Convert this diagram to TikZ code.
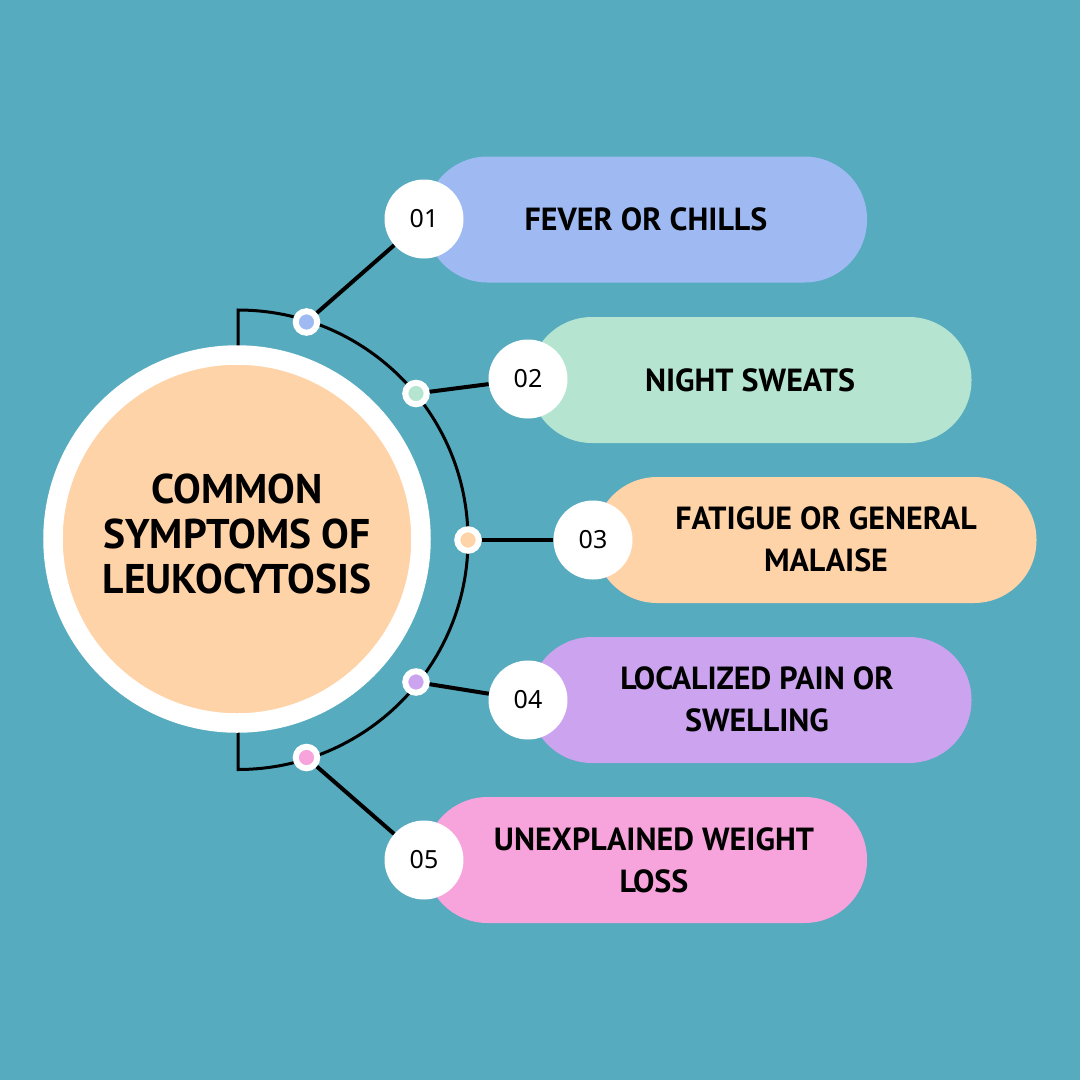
\documentclass[tikz,border=0pt]{standalone}
\usepackage{fontspec}
\setmainfont{PT Sans}
\newfontfamily\numfont{Noto Sans}
\definecolor{bgc}{HTML}{56ABBF}
\definecolor{cblue}{HTML}{9FBAF2}
\definecolor{cgreen}{HTML}{B5E5D1}
\definecolor{corange}{HTML}{FFD3A8}
\definecolor{cpurple}{HTML}{CBA3EE}
\definecolor{cpink}{HTML}{F7A3DC}
\tikzset{
 pill/.style={rounded corners=62.5pt,minimum width=442pt,minimum height=126pt,inner sep=0pt,fill=#1,draw=none},
 numc/.style={circle,fill=white,minimum size=79pt,inner sep=0pt,font=\numfont\fontsize{25}{25}\selectfont},
 dotc/.style={circle,fill=#1,draw=white,line width=6pt,minimum size=21.5pt,inner sep=0pt},
 ptxt/.style={align=center,font=\bfseries\fontsize{32}{42}\selectfont,text=black},
 link/.style={draw=black,line width=4pt},
 rim/.style={draw=black,line width=3pt}
}
\begin{document}
\begin{tikzpicture}[x=1pt,y=-1pt]
\fill[bgc] (0,0) rectangle (1080,1080);
\useasboundingbox (0,0) rectangle (1080,1080);
% rim
\coordinate (rt) at (238,310);
\coordinate (rtl) at (238,350);
\coordinate (rbl) at (238,730);
\draw[rim,line join=miter] (rtl) -- (rt) arc[start angle=-90,end angle=90,x radius=230,y radius=229.75] -- (rbl);
% main
\node[circle,fill=corange,draw=white,line width=19.5pt,minimum size=368pt,inner sep=0pt] (main) at (237,539) {};
\node[align=center,font=\bfseries\fontsize{41.5}{45}\selectfont] (title) at (237,534) {COMMON\\SYMPTOMS OF\\LEUKOCYTOSIS};
% pills
\node[pill=cblue] (p1) at (646,219.5) {};
\node[pill=cgreen] (p2) at (750.5,380) {};
\node[pill=corange] (p3) at (815.5,540) {};
\node[pill=cpurple] (p4) at (750.5,700) {};
\node[pill=cpink] (p5) at (646,860) {};
\node[ptxt] (t1) at (646,219.5) {FEVER OR CHILLS};
\node[ptxt] (t2) at (750,380) {NIGHT SWEATS};
\node[ptxt] (t3) at (826,539) {FATIGUE OR GENERAL\\MALAISE};
\node[ptxt] (t4) at (757,699) {LOCALIZED PAIN OR\\SWELLING};
\node[ptxt] (t5) at (654,860) {UNEXPLAINED WEIGHT\\LOSS};
% number circles
\node[numc] (n1) at (424,219) {01};
\node[numc] (n2) at (528,379) {02};
\node[numc] (n3) at (593,540) {03};
\node[numc] (n4) at (528,700) {04};
\node[numc] (n5) at (424,860) {05};
% dots
\node[dotc=cblue] (d1) at (306.5,322) {};
\node[dotc=cgreen] (d2) at (416,393.5) {};
\node[dotc=corange] (d3) at (468,540) {};
\node[dotc=cpurple] (d4) at (416,682) {};
\node[dotc=cpink] (d5) at (306.5,757.5) {};
\foreach \i in {1,...,5}{\draw[link] (d\i) -- (n\i);}
\end{tikzpicture}
\end{document}
